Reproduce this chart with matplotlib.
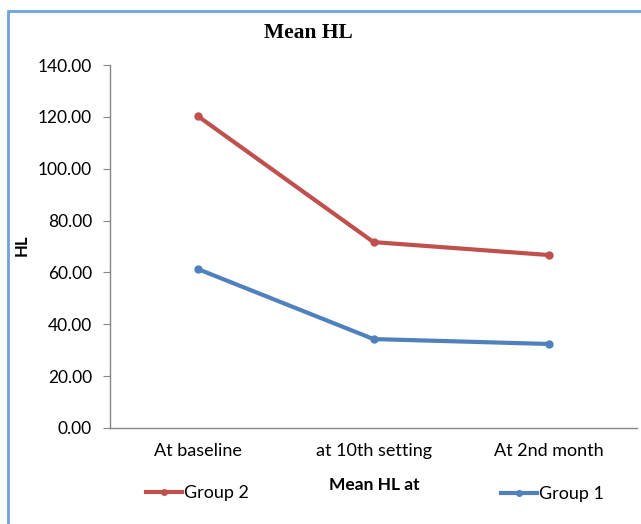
import matplotlib
matplotlib.use("Agg")
import matplotlib.pyplot as plt
from matplotlib.lines import Line2D
from matplotlib.patches import Rectangle

categories = ["At baseline", "at 10th setting", "At 2nd month"]
group2 = [120.3, 71.7, 66.7]
group1 = [61.3, 34.3, 32.4]
yticks = [0, 20, 40, 60, 80, 100, 120, 140]

red = "#C0504D"
blue = "#4F81BD"
font = ["Lato", "DejaVu Sans"]

fig = plt.figure(figsize=(6.41, 5.24), dpi=100)
ax = fig.add_axes([110/641, (524-428)/524, (637-110)/641, (428-65)/524])

x = list(range(len(categories)))
ax.plot(x, group2, color=red, lw=3, marker="o", ms=5, solid_capstyle="round")
ax.plot(x, group1, color=blue, lw=3, marker="o", ms=5, solid_capstyle="round")

ax.set_xlim(-0.5, 2.5)
ax.set_ylim(0, 140)
ax.set_yticks(yticks)
ax.set_yticklabels([f"{v:.2f}" for v in yticks], family=font, fontsize=12.5)
ax.set_xticks(x)
ax.set_xticklabels(categories, family=font, fontsize=13)
ax.tick_params(axis="y", direction="out", length=5, color="#868686", pad=8)
ax.tick_params(axis="x", length=0, pad=11)
for s in ["top", "right"]:
    ax.spines[s].set_visible(False)
for s in ["left", "bottom"]:
    ax.spines[s].set_color("#868686")
    ax.spines[s].set_linewidth(1)

fig.text(308/641, 1 - 33/524, "Mean HL", family="Liberation Serif", weight="bold",
         fontsize=15.5, ha="center", va="center")
fig.text(22/641, 1 - 245/524, "HL", family=font, weight="bold", fontsize=12,
         rotation=90, ha="center", va="center")
fig.text(374/641, 1 - 485/524, "Mean HL at", family=font, weight="bold",
         fontsize=12.5, ha="center", va="center")

h2 = Line2D([], [], color=red, lw=3, marker="o", ms=4)
h1 = Line2D([], [], color=blue, lw=3, marker="o", ms=4)
leg2 = fig.legend([h2], ["Group 2"], loc="center", bbox_to_anchor=(197/641, 1 - 493/524),
                  frameon=False, prop={"family": font, "size": 13}, handlelength=2.0,
                  handletextpad=0.1)
leg1 = fig.legend([h1], ["Group 1"], loc="center", bbox_to_anchor=(552/641, 1 - 494/524),
                  frameon=False, prop={"family": font, "size": 13}, handlelength=2.0,
                  handletextpad=0.1)

fig.patches.append(Rectangle((8/641, -0.2), 2, 1 - 11/524 + 0.2, transform=fig.transFigure,
                             fill=False, edgecolor="#6FA3DC", lw=2))

fig.savefig("out.png", dpi=100)
